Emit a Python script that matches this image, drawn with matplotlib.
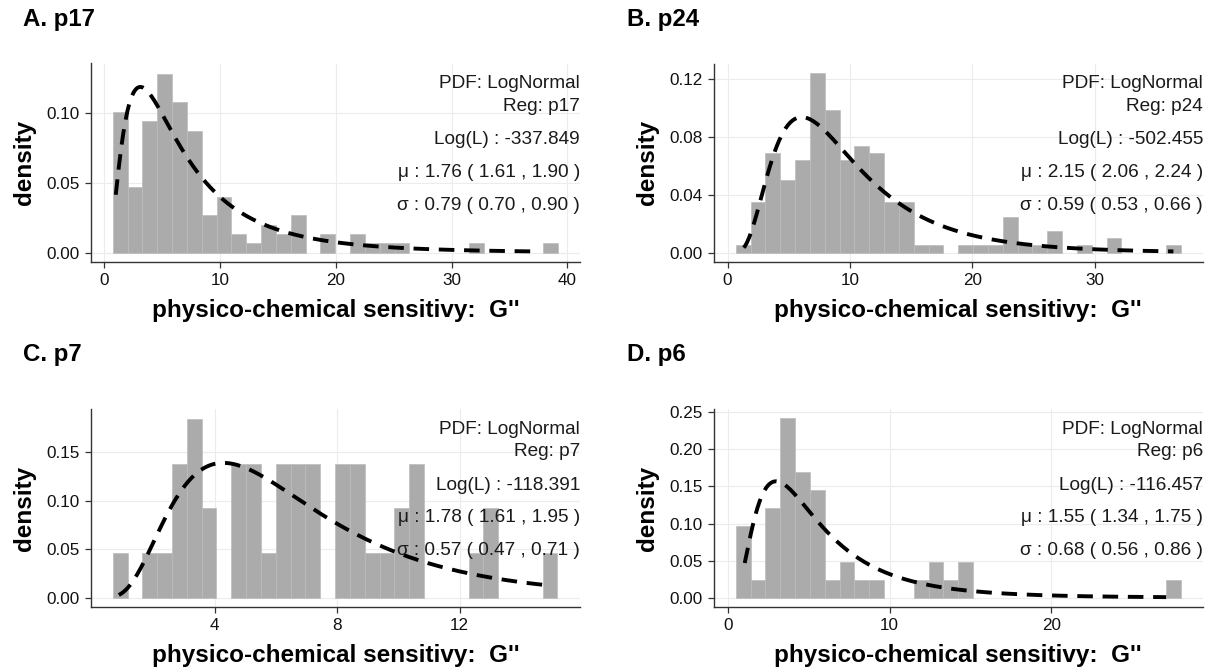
import matplotlib.pyplot as plt
import numpy as np

plt.rcParams['font.family'] = ['Liberation Sans', 'DejaVu Sans']

# panel info
letters = ['A', 'B', 'C', 'D']
regions = ['p17', 'p24', 'p7', 'p6']
loglik = ['-337.849', '-502.455', '-118.391', '-116.457']
mu = [1.76, 2.15, 1.78, 1.55]
mu_ci = [(1.61, 1.90), (2.06, 2.24), (1.61, 1.95), (1.34, 1.75)]
sigma = [0.79, 0.59, 0.57, 0.68]
sigma_ci = [(0.70, 0.90), (0.53, 0.66), (0.47, 0.71), (0.56, 0.86)]

# histogram bins (30 per panel)
bin_start = [0.73, 0.667, 0.675, 0.48]
bin_width = [1.281, 1.213, 0.484, 0.917]

dens_p17 = [0.101, 0.047, 0.094, 0.128, 0.108, 0.087, 0.027, 0.040, 0.013, 0.007,
            0.020, 0.013, 0.027, 0.0, 0.013, 0.0, 0.013, 0.007, 0.007, 0.007,
            0.0, 0.0, 0.0, 0.0, 0.007, 0.0, 0.0, 0.0, 0.0, 0.007]
dens_p24 = [0.005, 0.035, 0.069, 0.050, 0.064, 0.124, 0.099, 0.064, 0.074, 0.069,
            0.035, 0.035, 0.005, 0.005, 0.0, 0.005, 0.005, 0.005, 0.025, 0.005,
            0.005, 0.015, 0.0, 0.005, 0.0, 0.010, 0.0, 0.0, 0.0, 0.005]
dens_p7 = [0.046, 0.0, 0.046, 0.046, 0.138, 0.184, 0.092, 0.0, 0.138, 0.138,
           0.046, 0.138, 0.138, 0.138, 0.0, 0.138, 0.138, 0.046, 0.046, 0.092,
           0.138, 0.0, 0.0, 0.0, 0.046, 0.092, 0.0, 0.0, 0.0, 0.046]
dens_p6 = [0.097, 0.024, 0.121, 0.242, 0.169, 0.145, 0.024, 0.048, 0.024, 0.024,
           0.0, 0.0, 0.024, 0.048, 0.024, 0.048, 0.0, 0.0, 0.0, 0.0,
           0.0, 0.0, 0.0, 0.0, 0.0, 0.0, 0.0, 0.0, 0.0, 0.024]
densities = [dens_p17, dens_p24, dens_p7, dens_p6]

# x extent of the fitted curve
curve_range = [(0.99, 37.2), (1.33, 36.45), (0.875, 14.95), (1.03, 27.1)]

xticks = [[0, 10, 20, 30, 40], [0, 10, 20, 30], [4, 8, 12], [0, 10, 20]]
yticks = [[0, 0.05, 0.10], [0, 0.04, 0.08, 0.12],
          [0, 0.05, 0.10, 0.15], [0, 0.05, 0.10, 0.15, 0.20, 0.25]]
xlims = [(-1.19, 41.08), (-1.15, 38.87), (-0.05, 15.93), (-0.9, 29.38)]
ylims = [(-0.0065, 0.1355), (-0.0062, 0.1308), (-0.0092, 0.194), (-0.0121, 0.254)]

W, H = 1209, 671
fig = plt.figure(figsize=(W / 100, H / 100), dpi=100)

boxes = [(90.5, 63.5, 580, 261.7), (713.5, 63.5, 1203, 261.7),
         (90.5, 409.3, 580, 606.7), (713.5, 409.3, 1203, 606.7)]
title_pos = [(22.7, 19.3), (627, 19.3), (22.7, 354.8), (627, 354.8)]

spine_col = '#333333'
text_fracs = [0.90, 0.785, 0.615, 0.452, 0.285]

for i in range(4):
    x0, y0, x1, y1 = boxes[i]
    ax = fig.add_axes([x0 / W, 1 - y1 / H, (x1 - x0) / W, (y1 - y0) / H])

    d = np.array(densities[i])
    left = bin_start[i] + bin_width[i] * np.arange(len(d))
    keep = d > 0
    ax.bar(left[keep], d[keep], width=bin_width[i], align='edge',
           color='#ababab', edgecolor='#bcbcbc', linewidth=0.5, zorder=2)

    xs = np.linspace(curve_range[i][0], curve_range[i][1], 400)
    pdf = np.exp(-(np.log(xs) - mu[i]) ** 2 / (2 * sigma[i] ** 2)) / (xs * sigma[i] * np.sqrt(2 * np.pi))
    ax.plot(xs, pdf, color='black', lw=2.8, dashes=(4, 2.5), zorder=3)

    ax.set_xlim(xlims[i])
    ax.set_ylim(ylims[i])
    ax.set_xticks(xticks[i])
    ax.set_yticks(yticks[i])
    ax.set_yticklabels(['%.2f' % v for v in yticks[i]])
    ax.grid(True, color='#ececec', lw=0.8, zorder=0)
    ax.set_axisbelow(True)
    for s in ['top', 'right']:
        ax.spines[s].set_visible(False)
    for s in ['left', 'bottom']:
        ax.spines[s].set_color(spine_col)
        ax.spines[s].set_linewidth(1.0)
    ax.tick_params(direction='out', length=4, width=0.9, color=spine_col,
                   labelsize=12.3, labelcolor='#111111', pad=4)

    ax.set_xlabel("physico-chemical sensitivy:  G''", fontsize=17.5,
                  fontweight='bold', labelpad=8)
    ax.set_ylabel('density', fontsize=17.5, fontweight='bold', labelpad=7)

    lines = ['PDF: LogNormal',
             'Reg: ' + regions[i],
             'Log(L) : ' + loglik[i],
             '\u03bc : %.2f ( %.2f , %.2f )' % (mu[i], mu_ci[i][0], mu_ci[i][1]),
             '\u03c3 : %.2f ( %.2f , %.2f )' % (sigma[i], sigma_ci[i][0], sigma_ci[i][1])]
    for t, fy in zip(lines, text_fracs):
        ax.text(1.0, fy, t, transform=ax.transAxes, ha='right', va='center',
                fontsize=13.7, color='#1a1a1a', zorder=4)

    tx, ty = title_pos[i]
    fig.text(tx / W, 1 - ty / H, letters[i] + '. ' + regions[i], ha='left',
             va='center', fontsize=17.3, fontweight='bold')

fig.savefig('out.png', dpi=100)
